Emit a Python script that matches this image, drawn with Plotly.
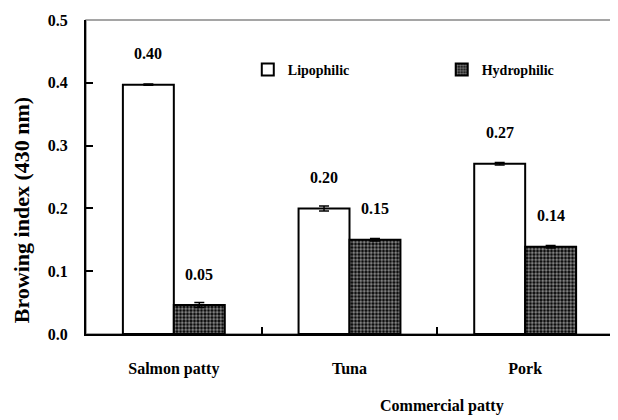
import plotly.graph_objects as go

categories = ["Salmon patty", "Tuna", "Pork"]
lipophilic = [0.397, 0.200, 0.271]
lipophilic_err = [0.001, 0.004, 0.002]
lipophilic_labels = ["0.40", "0.20", "0.27"]
hydrophilic = [0.046, 0.150, 0.139]
hydrophilic_err = [0.004, 0.002, 0.002]
hydrophilic_labels = ["0.05", "0.15", "0.14"]
y_ticks = [0.0, 0.1, 0.2, 0.3, 0.4, 0.5]

FONT = "Liberation Serif"
# page body has an 8px default margin, so the figure is drawn 8px in from the top-left
W, H = 610, 412
ML, MR, MT, MB = 78, 5, 12, 86

fig = go.Figure()
fig.add_trace(go.Bar(
    name="<b>Lipophilic</b>", x=categories, y=lipophilic, legend="legend",
    marker=dict(color="white", line=dict(color="black", width=2)),
    error_y=dict(type="data", array=lipophilic_err, color="black", thickness=1.5, width=5),
))
fig.add_trace(go.Bar(
    name="<b>Hydrophilic</b>", x=categories, y=hydrophilic, legend="legend2",
    marker=dict(color="black", line=dict(color="black", width=2),
                pattern=dict(shape=".", size=3.5, solidity=0.55, fgcolor="white", bgcolor="black")),
    error_y=dict(type="data", array=hydrophilic_err, color="black", thickness=1.5, width=5),
))

# value labels above bars
plot_w = W - ML - MR
cat_w = plot_w / len(categories)
bar_w = cat_w * (1 - 0.42) / 2
for cat, v, t in zip(categories, lipophilic, lipophilic_labels):
    fig.add_annotation(x=cat, y=v, xref="x", yref="y", text=t, showarrow=False,
                       xshift=-bar_w / 2, yshift=31, yanchor="middle",
                       font=dict(family=FONT, size=16, color="black", weight="bold"))
for cat, v, t in zip(categories, hydrophilic, hydrophilic_labels):
    fig.add_annotation(x=cat, y=v, xref="x", yref="y", text=t, showarrow=False,
                       xshift=bar_w / 2, yshift=31, yanchor="middle",
                       font=dict(family=FONT, size=16, color="black", weight="bold"))

# axis titles
fig.add_annotation(text="Commercial patty", xref="paper", yref="paper", x=0.675, y=-0.23,
                   showarrow=False, xanchor="center", yanchor="middle",
                   font=dict(family=FONT, size=16, color="black", weight="bold"))
fig.add_annotation(text="Browing index (430 nm)", xref="paper", yref="paper", x=-0.121, y=0.395,
                   showarrow=False, textangle=-90, xanchor="center", yanchor="middle",
                   font=dict(family=FONT, size=22, color="black", weight="bold"))

# grey frame on top/right
fig.add_shape(type="rect", xref="paper", yref="paper", x0=0, y0=0, x1=1, y1=1,
              line=dict(color="#888888", width=1.5), layer="below")

legend_style = dict(orientation="h", yanchor="middle", xanchor="left", y=0.841,
                    font=dict(family=FONT, size=14, color="black", weight="bold"),
                    bgcolor="rgba(0,0,0,0)")

fig.update_layout(
    width=W, height=H,
    margin=dict(l=ML, r=MR, t=MT, b=MB),
    paper_bgcolor="white", plot_bgcolor="white",
    barmode="group", bargap=0.42, bargroupgap=0,
    font=dict(family=FONT, size=16, color="black"),
    showlegend=True,
    legend=dict(x=0.307, **legend_style),
    legend2=dict(x=0.675, **legend_style),
    xaxis=dict(type="category", showline=True, linecolor="black", linewidth=2,
               ticks="inside", tickson="boundaries", ticklen=7, tickwidth=1.5, tickcolor="black",
               ticklabelstandoff=19, showgrid=False, zeroline=False,
               tickfont=dict(family=FONT, size=16, color="black", weight="bold")),
    yaxis=dict(range=[0, 0.5], tickvals=y_ticks, tickformat=".1f",
               showline=True, linecolor="black", linewidth=2,
               ticks="inside", ticklen=7, tickwidth=1.5, tickcolor="black",
               ticklabelstandoff=13, showgrid=False, zeroline=False,
               tickfont=dict(family=FONT, size=16, color="black", weight="bold")),
)

fig.write_html("out.html")
